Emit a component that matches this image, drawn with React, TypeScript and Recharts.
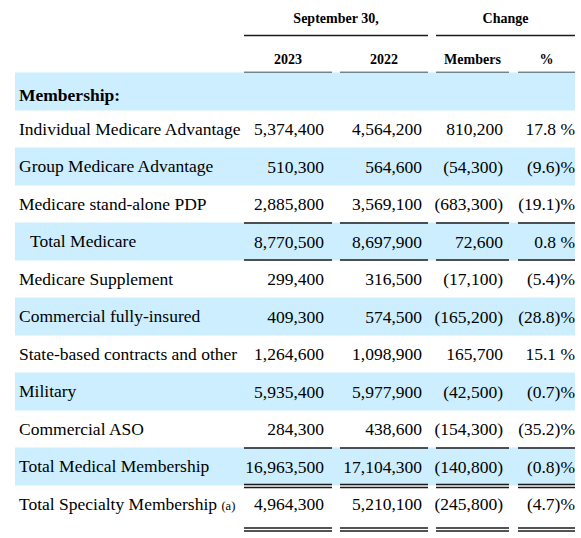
import React from "react";
import { BarChart, Bar, XAxis, YAxis, Cell, LabelList, Customized } from "recharts";

const rowLabels = [
  "Membership:",
  "Individual Medicare Advantage",
  "Group Medicare Advantage",
  "Medicare stand-alone PDP",
  "Total Medicare",
  "Medicare Supplement",
  "Commercial fully-insured",
  "State-based contracts and other",
  "Military",
  "Commercial ASO",
  "Total Medical Membership",
  "Total Specialty Membership (a)",
];
const sept2023 = [null, 5374400, 510300, 2885800, 8770500, 299400, 409300, 1264600, 5935400, 284300, 16963500, 4964300];
const sept2022 = [null, 4564200, 564600, 3569100, 8697900, 316500, 574500, 1098900, 5977900, 438600, 17104300, 5210100];
const changeMembers = [null, 810200, -54300, -683300, 72600, -17100, -165200, 165700, -42500, -154300, -140800, -245800];
const changePct = [null, 17.8, -9.6, -19.1, 0.8, -5.4, -28.8, 15.1, -0.7, -35.2, -0.8, -4.7];
const groupHeaders = ["September 30,", "Change"];
const columnHeaders = ["2023", "2022", "Members", "%"];

const data = rowLabels.map((label, i) => ({
  label,
  span: 1,
  y2023: sept2023[i],
  y2022: sept2022[i],
  members: changeMembers[i],
  pct: changePct[i],
}));

const FONT = "'Liberation Serif', 'Times New Roman', serif";
const BLUE = "#cceeff";
const INK = "#1a1a1a";
const BODY = 17.5;

// column geometry (left/right of the rule, right edge of the text)
const cols = [
  { left: 244, right: 332, text: 324 },
  { left: 340, right: 428, text: 422 },
  { left: 436, right: 509, text: 503 },
  { left: 518, right: 575, text: 575 },
];

const fmtNum = (n: number) =>
  n < 0 ? `(${Math.abs(n).toLocaleString("en-US")})` : n.toLocaleString("en-US");
const fmtPct = (n: number) =>
  n < 0 ? `(${Math.abs(n).toFixed(1)})%` : `${n.toFixed(1)} %`;

// rules drawn under / over rows, by row label
const rules: Record<string, { top?: boolean; bottom?: "single" | "double"; offset?: number }> = {
  "Total Medicare": { top: true, bottom: "single" },
  "Total Medical Membership": { top: true, bottom: "double" },
  "Total Specialty Membership (a)": { bottom: "double", offset: 6 },
};

const colLines = (y: number, key: string) =>
  cols.map((c, i) => (
    <line key={key + i} x1={c.left} x2={c.right} y1={y} y2={y} stroke={INK} strokeWidth={1.4} />
  ));

const RuleLayer = (props: any) => {
  const vb = props.viewBox || props;
  const r = rules[props.value];
  if (!r) return null;
  const bottom = vb.y + vb.height + (r.offset || 0);
  return (
    <g>
      {r.top && colLines(vb.y + 0.5, "t")}
      {r.bottom === "single" && colLines(bottom - 0.5, "b")}
      {r.bottom === "double" && colLines(bottom - 1, "d1")}
      {r.bottom === "double" && colLines(bottom + 2, "d2")}
    </g>
  );
};

const RowTick = (props: any) => {
  const { y, payload } = props;
  const label: string = payload.value;
  const first = label === rowLabels[0];
  const indent = label === "Total Medicare" ? 30 : 19;
  const base = y + (first ? 10 : 6);
  if (label.endsWith(" (a)")) {
    return (
      <text x={indent} y={base} fontFamily={FONT} fontSize={BODY} fill="#000">
        {label.replace(" (a)", " ")}
        <tspan fontSize={12.5}>(a)</tspan>
      </text>
    );
  }
  return (
    <text x={indent} y={base} fontFamily={FONT} fontSize={BODY} fontWeight={first ? "bold" : "normal"} fill="#000">
      {label}
    </text>
  );
};

const cellText = (colIdx: number, fmt: (n: number) => string) => (props: any) => {
  const vb = props.viewBox || props;
  const { value } = props;
  if (value === null || value === undefined) return null;
  return (
    <text x={cols[colIdx].text} y={vb.y + vb.height / 2 + 6} textAnchor="end" fontFamily={FONT} fontSize={BODY} fill="#000">
      {fmt(value)}
    </text>
  );
};

const HeaderLayer = () => {
  const groups = [
    { left: cols[0].left, right: cols[1].right },
    { left: cols[2].left, right: cols[3].right },
  ];
  return (
    <g>
      {groups.map((g, i) => (
        <g key={"g" + i}>
          <text x={(g.left + g.right) / 2} y={23} textAnchor="middle" fontFamily={FONT} fontSize={14} fontWeight="bold" fill="#000">
            {groupHeaders[i]}
          </text>
          <line x1={g.left} x2={g.right} y1={35.5} y2={35.5} stroke={INK} strokeWidth={1.5} />
        </g>
      ))}
      {cols.map((c, i) => (
        <g key={"c" + i}>
          <text x={(c.left + c.right) / 2} y={64} textAnchor="middle" fontFamily={FONT} fontSize={14} fontWeight="bold" fill="#000">
            {columnHeaders[i]}
          </text>
          <line x1={c.left} x2={c.right} y1={72.5} y2={72.5} stroke={INK} strokeWidth={1.5} />
        </g>
      ))}
    </g>
  );
};

export default function App() {
  return (
    <div style={{ position: "absolute", left: 0, top: 0, background: "#fff" }}>
      <BarChart
        width={581}
        height={538}
        data={data}
        layout="vertical"
        barCategoryGap={0}
        margin={{ top: 72.5, right: 6, bottom: 15.5, left: 0 }}
      >
        <XAxis type="number" domain={[0, 1]} hide />
        <YAxis
          type="category"
          dataKey="label"
          width={15}
          axisLine={false}
          tickLine={false}
          interval={0}
          tick={RowTick}
        />
        <Bar dataKey="span" isAnimationActive={false}>
          {data.map((d, i) => (
            <Cell key={d.label} fill={i % 2 === 0 ? BLUE : "none"} />
          ))}
          <LabelList dataKey="label" content={RuleLayer} />
          <LabelList dataKey="y2023" content={cellText(0, fmtNum)} />
          <LabelList dataKey="y2022" content={cellText(1, fmtNum)} />
          <LabelList dataKey="members" content={cellText(2, fmtNum)} />
          <LabelList dataKey="pct" content={cellText(3, fmtPct)} />
        </Bar>
        <Customized component={HeaderLayer} />
      </BarChart>
    </div>
  );
}
